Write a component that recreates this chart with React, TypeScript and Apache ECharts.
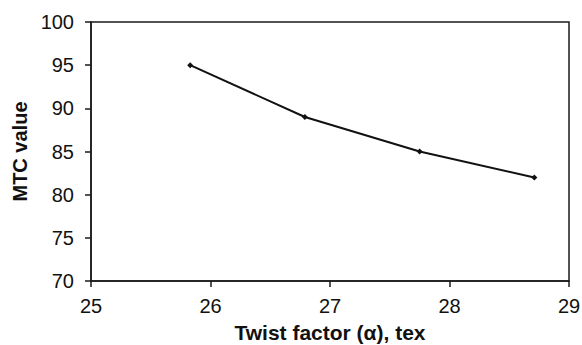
import React, { useEffect, useRef } from "react";
import * as echarts from "echarts";

const twistFactor = [25.83, 26.79, 27.75, 28.71];
const mtcValue = [95, 89, 85, 82];
const xTitle = "Twist factor (α), tex";
const yTitle = "MTC value";

export default function App() {
  const ref = useRef<HTMLDivElement>(null);
  useEffect(() => {
    if (!ref.current) return;
    const chart = echarts.init(ref.current, null, { renderer: "svg" });
    const font = "'Liberation Sans', Arial, sans-serif";
    chart.setOption({
      animation: false,
      backgroundColor: "#ffffff",
      grid: {
        left: 91,
        right: 13,
        top: 22,
        bottom: 64,
        show: true,
        borderColor: "#1a1a1a",
        borderWidth: 1.5,
        outerBoundsMode: "none",
        containLabel: false,
      },
      xAxis: {
        type: "value",
        min: 25,
        max: 29,
        interval: 1,
        name: xTitle,
        nameLocation: "middle",
        nameGap: 41,
        nameTextStyle: { fontFamily: font, fontSize: 21, fontWeight: "bold", color: "#111" },
        axisLine: { show: true, lineStyle: { color: "#1a1a1a", width: 1.5 } },
        axisTick: { show: true, length: 6, inside: false, lineStyle: { color: "#1a1a1a", width: 1.5 } },
        axisLabel: { fontFamily: font, fontSize: 20, color: "#111", margin: 15 },
        splitLine: { show: false },
      },
      yAxis: {
        type: "value",
        min: 70,
        max: 100,
        interval: 5,
        name: yTitle,
        nameLocation: "middle",
        nameGap: 57,
        nameRotate: 90,
        nameTextStyle: { fontFamily: font, fontSize: 20, fontWeight: "bold", color: "#111" },
        axisLine: { show: true, lineStyle: { color: "#1a1a1a", width: 1.5 } },
        axisTick: { show: true, length: 6, inside: false, lineStyle: { color: "#1a1a1a", width: 1.5 } },
        axisLabel: { fontFamily: font, fontSize: 20, color: "#111", margin: 17 },
        splitLine: { show: false },
      },
      series: [
        {
          type: "line",
          data: twistFactor.map((x, i) => [x, mtcValue[i]]),
          symbol: "diamond",
          symbolSize: 6,
          showSymbol: true,
          lineStyle: { color: "#111", width: 2 },
          itemStyle: { color: "#111" },
        },
      ],
    });
    return () => chart.dispose();
  }, []);
  return <div ref={ref} style={{ width: 582, height: 345, position: "absolute", left: 0, top: 0 }} />;
}
